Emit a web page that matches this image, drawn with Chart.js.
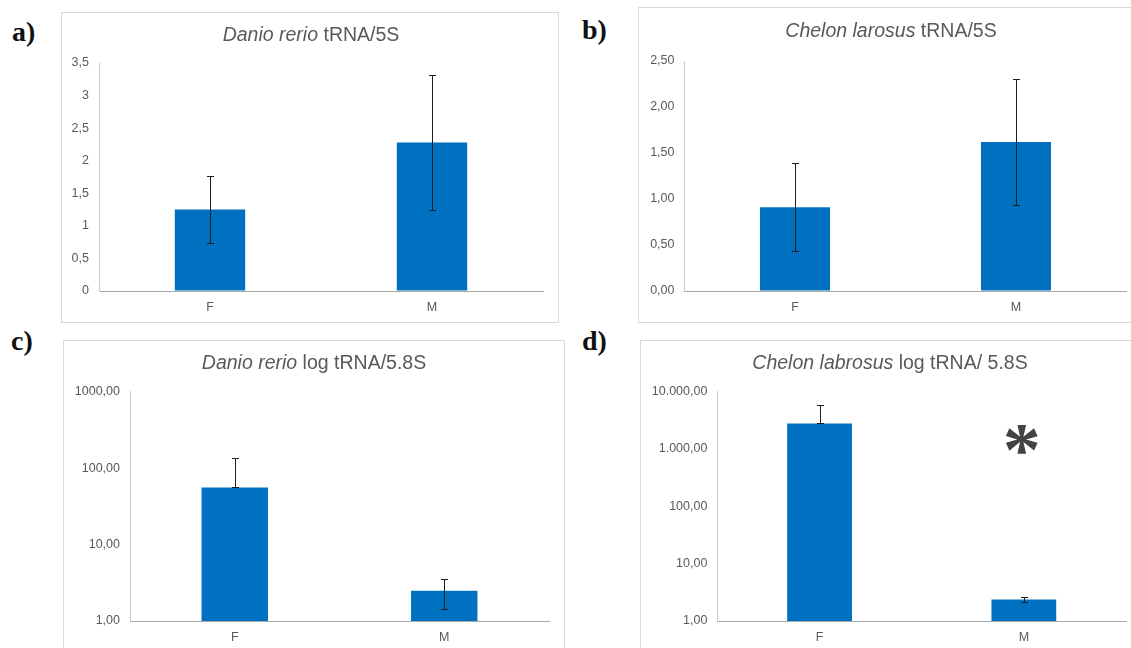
<!DOCTYPE html>
<html><head><meta charset="utf-8">
<script src="https://cdn.jsdelivr.net/npm/chart.js@4"></script>
<style>
body{margin:0;background:#fff;width:1131px;height:648px;overflow:hidden;position:relative;font-family:"Liberation Sans",Arial,sans-serif}
.frame{position:absolute;border:1px solid #d9d9d9;box-sizing:border-box;pointer-events:none}
canvas{position:absolute}
.title{position:absolute;white-space:nowrap;font-size:19.5px;line-height:20px;color:#595959;transform:translateX(-50%)}
.lbl{position:absolute;font-family:"Liberation Serif","Times New Roman",serif;font-weight:bold;font-size:28px;line-height:28px;color:#111}
</style></head><body>
<div class="lbl" style="left:12px;top:18px">a)</div>
<div class="lbl" style="left:582px;top:16px">b)</div>
<div class="lbl" style="left:11px;top:327px">c)</div>
<div class="lbl" style="left:582px;top:327px">d)</div>

<canvas id="ca" width="498" height="311" style="left:61px;top:12px"></canvas>
<canvas id="cb" width="493" height="316" style="left:638px;top:7px"></canvas>
<canvas id="cc" width="502" height="308" style="left:63px;top:340px"></canvas>
<canvas id="cd" width="491" height="308" style="left:640px;top:340px"></canvas>

<div class="frame" style="left:61px;top:12px;width:498px;height:311px"></div>
<div class="frame" style="left:638px;top:7px;width:520px;height:316px"></div>
<div class="frame" style="left:63px;top:340px;width:502px;height:330px"></div>
<div class="frame" style="left:640px;top:340px;width:520px;height:330px"></div>

<div class="title" style="left:311px;top:24px"><i>Danio rerio</i> tRNA/5S</div>
<div class="title" style="left:891px;top:20px"><i>Chelon larosus</i> tRNA/5S</div>
<div class="title" style="left:314px;top:352px"><i>Danio rerio</i> log tRNA/5.8S</div>
<div class="title" style="left:890px;top:352px"><i>Chelon labrosus</i> log tRNA/ 5.8S</div>

<script>
// ---- data ----
const categories = ["F", "M"];

const aValues = [1.25, 2.28];
const aErrors = [0.52, 1.04];
const aTickValues = [0, 0.5, 1, 1.5, 2, 2.5, 3, 3.5];
const aTicks = ["0", "0,5", "1", "1,5", "2", "2,5", "3", "3,5"];

const bValues = [0.91, 1.62];
const bErrors = [0.48, 0.68];
const bTickValues = [0, 0.5, 1, 1.5, 2, 2.5];
const bTicks = ["0,00", "0,50", "1,00", "1,50", "2,00", "2,50"];

const cValues = [56, 2.48];
const cErrors = [81, 1.06];
const cTickValues = [1, 10, 100, 1000];
const cTicks = ["1,00", "10,00", "100,00", "1000,00"];

const dValues = [2800, 2.38];
const dErrors = [3150, 0.25];
const dTickValues = [1, 10, 100, 1000, 10000];
const dTicks = ["1,00", "10,00", "100,00", "1.000,00", "10.000,00"];

const dMarkText = "*";
const dMarkCategory = 1;
const dMarkValue = 1450;

// ---- plugins ----
const errorBars = {
  id: 'errorBars',
  afterDatasetsDraw(chart, args, opts) {
    if (!opts || !opts.errors) return;
    const ctx = chart.ctx, meta = chart.getDatasetMeta(0), y = chart.scales.y;
    const vals = chart.data.datasets[0].data;
    ctx.save();
    ctx.strokeStyle = '#1e1e1e';
    ctx.lineWidth = 1;
    meta.data.forEach((bar, i) => {
      const v = vals[i], e = opts.errors[i];
      const x = Math.round(bar.x) + 0.5;
      const top = Math.round(y.getPixelForValue(v + e)) + 0.5;
      const low = v - e;
      const botVal = (y.type === 'logarithmic' && low <= 0) ? v : low;
      const bot = Math.round(y.getPixelForValue(botVal)) + 0.5;
      const hw = 3.5;
      ctx.beginPath();
      ctx.moveTo(x, top); ctx.lineTo(x, bot);
      ctx.moveTo(x - hw, top); ctx.lineTo(x + hw, top);
      ctx.moveTo(x - hw, bot); ctx.lineTo(x + hw, bot);
      ctx.stroke();
    });
    ctx.restore();
  }
};

const markPlugin = {
  id: 'mark',
  afterDraw(chart, args, opts) {
    if (!opts || !opts.text) return;
    const ctx = chart.ctx;
    const x = chart.scales.x.getPixelForValue(opts.category) - 2;
    const y = chart.scales.y.getPixelForValue(opts.value);
    ctx.save();
    ctx.font = 'bold 76px "Liberation Serif", "Times New Roman", serif';
    ctx.fillStyle = '#444444';
    ctx.filter = 'blur(0.5px)';
    ctx.textAlign = 'left';
    ctx.textBaseline = 'alphabetic';
    const m = ctx.measureText(opts.text);
    const asc = m.actualBoundingBoxAscent, desc = m.actualBoundingBoxDescent;
    const L = m.actualBoundingBoxLeft, R = m.actualBoundingBoxRight;
    ctx.fillText(opts.text, x - (R - L) / 2, y + (asc - desc) / 2);
    ctx.restore();
  }
};

function makeChart(id, values, errors, yType, tickValues, tickLabels, lay, mark) {
  const yScale = {
    type: yType,
    min: tickValues[0],
    max: tickValues[tickValues.length - 1],
    afterBuildTicks: s => { s.ticks = tickValues.map(v => ({ value: v })); },
    afterFit: s => { s.width = lay.yw; },
    grid: { display: true, drawOnChartArea: false, drawTicks: false },
    border: { display: true, color: '#c9c9c9', width: 1 },
    ticks: {
      padding: lay.yp,
      color: '#595959',
      font: { family: '"Liberation Sans", Arial, sans-serif', size: 12.5 },
      callback: (v, i) => tickLabels[i]
    }
  };
  return new Chart(document.getElementById(id), {
    type: 'bar',
    data: {
      labels: categories,
      datasets: [{
        data: values,
        backgroundColor: '#0070c0',
        borderWidth: 0,
        barPercentage: 0.317,
        categoryPercentage: 1
      }]
    },
    options: {
      responsive: false,
      animation: false,
      devicePixelRatio: 1,
      layout: { padding: { top: lay.top, right: lay.right, left: 0, bottom: 0 } },
      scales: {
        x: {
          afterFit: s => { s.height = lay.xh; },
          grid: { display: true, drawOnChartArea: false, drawTicks: false },
          border: { display: true, color: '#a8a8a8', width: 1 },
          ticks: {
            padding: 9,
            color: '#595959',
            font: { family: '"Liberation Sans", Arial, sans-serif', size: 12.5 }
          }
        },
        y: yScale
      },
      plugins: {
        legend: { display: false },
        tooltip: { enabled: false },
        title: { display: false },
        errorBars: { errors: errors },
        mark: mark || {}
      }
    },
    plugins: [errorBars, markPlugin]
  });
}

makeChart('ca', aValues, aErrors, 'linear', aTickValues, aTicks, { top: 51, right: 16, yw: 38, yp: 10, xh: 32 });
makeChart('cb', bValues, bErrors, 'linear', bTickValues, bTicks, { top: 54, right: 4.5, yw: 46.5, yp: 10, xh: 32 });
makeChart('cc', cValues, cErrors, 'logarithmic', cTickValues, cTicks, { top: 51.7, right: 16, yw: 67, yp: 10, xh: 27 });
makeChart('cd', dValues, dErrors, 'logarithmic', dTickValues, dTicks, { top: 51.7, right: 5, yw: 77.4, yp: 10, xh: 27 },
  { text: dMarkText, category: dMarkCategory, value: dMarkValue });
</script>
</body></html>
